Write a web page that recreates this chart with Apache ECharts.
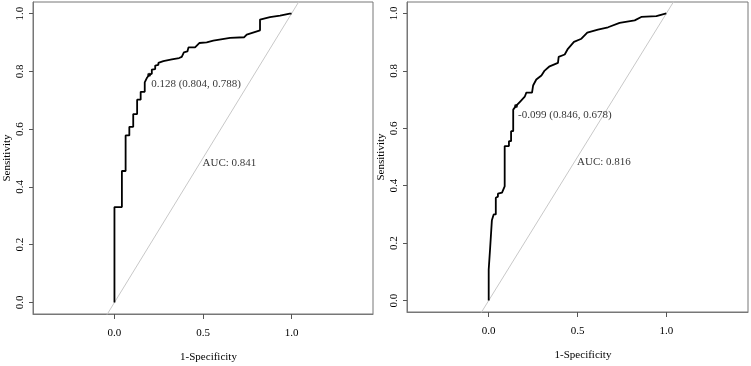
<!DOCTYPE html>
<html>
<head>
<meta charset="utf-8">
<script src="https://cdn.jsdelivr.net/npm/echarts@6/dist/echarts.min.js"></script>
<style>html,body{margin:0;padding:0;background:#fff}#c{width:751px;height:366px}</style>
</head>
<body>
<div id="c"></div>
<script>
// ---- data ----
const leftFpr = [0,0,0.042,0.042,0.063,0.063,0.084,0.084,0.106,0.106,0.128,0.128,0.148,0.148,0.171,0.171,0.184,0.196,0.211,0.211,0.23,0.23,0.248,0.248,0.276,0.324,0.365,0.38,0.389,0.392,0.412,0.418,0.455,0.479,0.521,0.558,0.653,0.733,0.747,0.822,0.822,0.878,0.935,0.99,1];
const leftTpr = [0,0.33,0.33,0.455,0.455,0.578,0.578,0.608,0.608,0.652,0.652,0.702,0.702,0.729,0.729,0.762,0.778,0.788,0.792,0.806,0.808,0.82,0.822,0.829,0.835,0.841,0.846,0.85,0.852,0.866,0.869,0.883,0.883,0.898,0.9,0.906,0.916,0.918,0.927,0.942,0.979,0.988,0.993,1.0,1];
const rightFpr = [0,0,0.008,0.008,0.018,0.018,0.028,0.028,0.04,0.04,0.052,0.052,0.075,0.09,0.09,0.114,0.114,0.126,0.126,0.138,0.138,0.154,0.18,0.203,0.212,0.244,0.25,0.268,0.297,0.315,0.343,0.39,0.394,0.428,0.446,0.48,0.522,0.555,0.615,0.672,0.737,0.822,0.859,0.944,1];
const rightTpr = [0,0.108,0.108,0.182,0.182,0.28,0.28,0.30,0.30,0.358,0.362,0.372,0.376,0.398,0.538,0.538,0.555,0.555,0.59,0.59,0.665,0.678,0.695,0.71,0.724,0.724,0.749,0.77,0.784,0.801,0.816,0.828,0.849,0.857,0.877,0.901,0.912,0.933,0.944,0.952,0.967,0.976,0.988,0.991,1];
const thresholds = ['0.128', '-0.099'];
const specificities = ['0.804', '0.846'];
const sensitivities = ['0.788', '0.678'];
const aucs = ['0.841', '0.816'];
const xTicks = [0, 0.5, 1];
const yTicks = [0, 0.2, 0.4, 0.6, 0.8, 1];
const refLine = [[-0.2, -0.2], [1.2, 1.2]];
// ---------------------------------------

const FONT = 'Liberation Serif';
const chart = echarts.init(document.getElementById('c'));
const pair = (xs, ys) => xs.map((x, i) => [x, ys[i]]);
const curves = [pair(leftFpr, leftTpr), pair(rightFpr, rightTpr)];

const grids = [
  {left: 33, top: 2, width: 340, height: 312},
  {left: 407, top: 2, width: 341, height: 310}
].map(g => Object.assign(g, {show: true, borderColor: '#777', borderWidth: 1, backgroundColor: 'transparent',
  containLabel: false, outerBoundsMode: 'none'}));

const xAxes = [0, 1].map(i => ({
  type: 'value', gridIndex: i, min: -0.46, max: 1.46, position: 'bottom',
  name: '1-Specificity', nameLocation: 'middle', nameGap: 38,
  nameTextStyle: {fontFamily: FONT, fontSize: 11, color: '#000', padding: [0, 0, 0, 11]},
  axisLine: {show: true, onZero: false, lineStyle: {color: '#777', width: 1}},
  splitLine: {show: false},
  axisTick: {show: true, inside: false, length: 5, lineStyle: {color: '#555', width: 1}, customValues: xTicks},
  axisLabel: {fontFamily: FONT, fontSize: 11, color: '#000', margin: 14, customValues: xTicks,
    formatter: v => v.toFixed(1)}
}));
const yAxes = [0, 1].map(i => ({
  type: 'value', gridIndex: i, min: -0.04, max: 1.04, position: 'left',
  name: 'Sensitivity', nameLocation: 'middle', nameGap: 20,
  nameTextStyle: {fontFamily: FONT, fontSize: 11, color: '#000'},
  axisLine: {show: true, onZero: false, lineStyle: {color: '#777', width: 1}},
  splitLine: {show: false},
  axisTick: {show: true, inside: false, length: 4, lineStyle: {color: '#555', width: 1}, customValues: yTicks},
  axisLabel: {fontFamily: FONT, fontSize: 11, color: '#000', rotate: 90, margin: 7, customValues: yTicks,
    formatter: v => v.toFixed(1)}
}));

const series = [];
[0, 1].forEach(i => {
  series.push({
    type: 'line', xAxisIndex: i, yAxisIndex: i, data: refLine, clip: true,
    showSymbol: false, silent: true, lineStyle: {color: '#c8c8c8', width: 1}, z: 1
  });
  series.push({
    type: 'line', xAxisIndex: i, yAxisIndex: i, data: curves[i], clip: true,
    showSymbol: false, silent: true, lineStyle: {color: '#000', width: 1.8}, z: 2
  });
  const cut = [1 - parseFloat(specificities[i]), parseFloat(sensitivities[i])];
  series.push({
    type: 'scatter', xAxisIndex: i, yAxisIndex: i, data: [cut], symbolSize: 4,
    itemStyle: {color: '#000'}, silent: true, z: 3,
    label: {show: true, position: [4, 11], align: 'left', verticalAlign: 'middle',
      fontFamily: FONT, fontSize: 11, color: '#000',
      formatter: () => thresholds[i] + ' (' + specificities[i] + ', ' + sensitivities[i] + ')'}
  });
  series.push({
    type: 'scatter', xAxisIndex: i, yAxisIndex: i, data: [[0.5, 0.5]], symbolSize: 1,
    itemStyle: {color: 'rgba(0,0,0,0)'}, silent: true, z: 3,
    label: {show: true, position: [0, 0], align: 'left', verticalAlign: 'top',
      fontFamily: FONT, fontSize: 11, color: '#000',
      formatter: () => 'AUC: ' + aucs[i]}
  });
});

chart.setOption({
  animation: false,
  backgroundColor: '#fff',
  grid: grids,
  xAxis: xAxes,
  yAxis: yAxes,
  series: series
});
</script>
</body>
</html>
